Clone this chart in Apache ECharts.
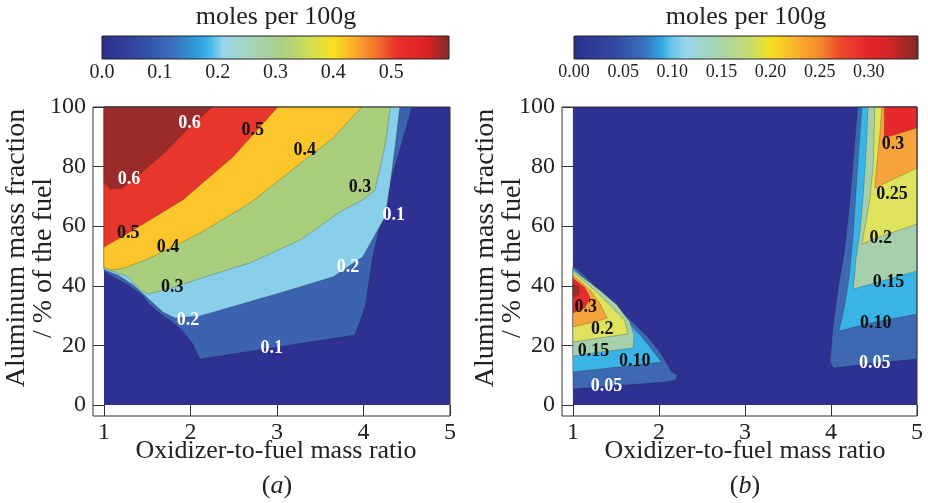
<!DOCTYPE html>
<html>
<head>
<meta charset="utf-8">
<script src="https://cdn.jsdelivr.net/npm/echarts@6/dist/echarts.min.js"></script>
<style>
html, body { margin: 0; padding: 0; background: #fff; }
#main { width: 928px; height: 503px; }
</style>
</head>
<body>
<div id="main"></div>
<script>
// axis ticks
var xTicks = [1, 2, 3, 4, 5];
var yTicks = [0, 20, 40, 60, 80, 100];
var cbarTicksA = [0, 0.1, 0.2, 0.3, 0.4, 0.5];
var cbarTicksB = [0, 0.05, 0.1, 0.15, 0.2, 0.25, 0.3];
var cbarMaxA = 0.6;
var cbarMaxB = 0.35;

// colour bars: [value, colour]
var cbarStopsA = [[0, '#2c2f8c'], [0.06, '#3147a0'], [0.12, '#3a6db8'], [0.17, '#2fa3e0'], [0.19, '#49bde9'],
    [0.21, '#9ad6ea'], [0.26, '#a7d4b8'], [0.31, '#a8cf86'], [0.36, '#d4de55'], [0.4, '#f7e01c'],
    [0.43, '#fbb52a'], [0.47, '#f3792c'], [0.51, '#e9302a'], [0.56, '#dd2228'], [0.6, '#7f2a25']];
var cbarStopsB = [[0, '#2c2f8c'], [0.04, '#3147a0'], [0.07, '#3a6db8'], [0.09, '#34a8e2'], [0.1, '#6cc6ea'],
    [0.115, '#9ad6ea'], [0.15, '#a8d2a8'], [0.18, '#c8dc6a'], [0.2, '#f5e01f'], [0.225, '#fbb32b'],
    [0.25, '#f58a2c'], [0.27, '#ec4a2a'], [0.3, '#e3242a'], [0.32, '#d42528'], [0.35, '#7f2a25']];

// (a) filled contour regions, one list of polygons per level [x ratio, Al %]
var levelsA = [0, 0.1, 0.2, 0.3, 0.4, 0.5, 0.6];
var regionsA = [
    [[[1, 0], [5, 0], [5, 100], [1, 100]]],
    [[[1, 45], [1.13, 42.6], [1.28, 40.3], [1.44, 36.9], [1.53, 33.6], [1.67, 30.2], [1.76, 28.5], [1.9, 25.2],
      [2.02, 20.8], [2.11, 15.4], [3.9, 23.5], [4.02, 32.9], [4.1, 48.7], [4.28, 72.1], [4.42, 85.6], [4.56, 100], [1, 100]]],
    [[[1, 45.3], [1.16, 43.6], [1.34, 40.3], [1.53, 35.2], [1.68, 31.2], [1.82, 29.2], [2.11, 29.9], [3.07, 37.9],
      [3.65, 43], [3.99, 49.7], [4.1, 55.4], [4.25, 63.1], [4.31, 74.5], [4.36, 85.6], [4.42, 100], [1, 100]]],
    [[[1, 45.6], [1.13, 44.6], [1.28, 43], [1.42, 38.6], [1.51, 37.2], [1.79, 39.3], [2.17, 43], [2.69, 47.7],
      [3.27, 55.4], [3.73, 64.8], [3.99, 68.8], [4.13, 72.1], [4.2, 80.5], [4.26, 88.9], [4.31, 100], [1, 100]]],
    [[[1, 46.3], [1.09, 45.3], [1.24, 46], [1.53, 49.3], [1.74, 52.3], [2.11, 57.7], [2.69, 67.8], [3.32, 82.2],
      [3.65, 89.6], [3.98, 100], [1, 100]]],
    [[[1, 53], [1.34, 58.7], [1.91, 68.8], [2.49, 83.2], [3.01, 100], [1, 100]]],
    [[[1, 74.8], [1.07, 72.5], [1.21, 72.8], [1.36, 76.2], [1.71, 84.9], [1.99, 93.3], [2.25, 100], [1, 100]]]
];
var labelsA = [[1.29, 75.8, '0.6'], [1.99, 94.6, '0.6'], [1.28, 57.7, '0.5'], [2.72, 92.3, '0.5'],
    [1.74, 53, '0.4'], [3.32, 85.6, '0.4'], [1.79, 39.6, '0.3'], [3.96, 73.2, '0.3'],
    [1.97, 28.5, '0.2'], [3.82, 46.3, '0.2'], [2.94, 19.1, '0.1'], [4.35, 63.8, '0.1']];

// (b)
var levelsB = [0, 0.05, 0.1, 0.15, 0.2, 0.25, 0.3, 0.33];
var regionsB = [
    [[[1, 0], [5, 0], [5, 100], [1, 100]]],
    [[[1, 46.6], [1.14, 43.3], [1.29, 38.9], [1.49, 33.2], [1.69, 27.9], [1.87, 22.8], [2.01, 17.8], [2.1, 13.4],
      [2.15, 11.1], [2.21, 10.1], [2.2, 8.4], [2.07, 7.7], [1, 5.4]],
     [[4.31, 100], [5, 100], [5, 15.4], [4.51, 14.1], [4.03, 12.4], [3.99, 14.4], [4.02, 25.2], [4.08, 38.6],
      [4.16, 52], [4.22, 68.8], [4.27, 85.6]]],
    [[[1, 46], [1.26, 38.6], [1.45, 33.2], [1.64, 27.9], [1.8, 22.8], [1.94, 17.8], [2.03, 14.4], [1.55, 12.8], [1, 11.1]],
     [[4.36, 100], [5, 100], [5, 30.5], [4.52, 27.9], [4.09, 24.8], [4.13, 29.2], [4.19, 38.6], [4.22, 45.3],
      [4.26, 57.7], [4.31, 79.9]]],
    [[[1, 45.3], [1.31, 38.6], [1.51, 33.6], [1.66, 27.9], [1.71, 23.5], [1.7, 19.1], [1.31, 17.8], [1, 16.4]],
     [[4.43, 100], [5, 100], [5, 45], [4.63, 41.9], [4.26, 38.9], [4.29, 48.7], [4.34, 58.7], [4.38, 72.1], [4.41, 85.6]]],
    [[[1, 44.6], [1.29, 37.6], [1.45, 32.9], [1.6, 28.5], [1.64, 23.8], [1.31, 22.5], [1, 21.1]],
     [[4.51, 100], [5, 100], [5, 60.7], [4.59, 56.7], [4.36, 54], [4.41, 62.1], [4.45, 68.8], [4.49, 79.9]]],
    [[[1, 43.6], [1.2, 38.6], [1.31, 34.2], [1.4, 29.2], [1.26, 27.9], [1, 26.2]],
     [[4.59, 100], [5, 100], [5, 79.5], [4.51, 72.8], [4.53, 79.9], [4.57, 91.3]]],
    [[[1, 42.6], [1.14, 39.3], [1.2, 35.9], [1.14, 32.6], [1, 30.9]],
     [[4.62, 100], [5, 100], [5, 93], [4.62, 89.6]]],
    [[[1, 40.6], [1.07, 39.6], [1.07, 37.2], [1, 36.2]]]
];
var labelsB = [[1.15, 32.8, '0.3'], [1.34, 25.4, '0.2'], [1.24, 18.1, '0.15'], [1.72, 14.5, '0.10'], [1.39, 6.4, '0.05'],
    [4.72, 87.6, '0.3'], [4.71, 70.8, '0.25'], [4.58, 55.9, '0.2'], [4.67, 41.2, '0.15'], [4.52, 27.4, '0.10'], [4.51, 14, '0.05']];

var colorsA = ['#2e3192', '#3b63b0', '#88cfea', '#a9cf7e', '#fbc52b', '#e8362c', '#9b2b2b'];
var colorsB = ['#2e3192', '#3d69b2', '#3ab4e7', '#a6d0ab', '#dfe25c', '#f6a33b', '#e8292b', '#a32929'];
var whiteA = ['0.6', '0.2', '0.1'];
var whiteB = ['0.05'];

var serif = '"Liberation Serif", "Times New Roman", serif';
var ink = '#222';

var chart = echarts.init(document.getElementById('main'));

function mainX(i) {
    return {
        type: 'value', gridIndex: i, min: 0.873, max: 5,
        axisLine: { show: false, onZero: false },
        splitLine: { show: false },
        axisTick: { show: true, inside: true, length: 11, customValues: xTicks, lineStyle: { color: '#333' } },
        axisLabel: { customValues: xTicks, fontSize: 24, fontFamily: serif, color: ink, margin: 5 }
    };
}
function mainY(i) {
    return {
        type: 'value', gridIndex: i, min: -3.7, max: 100,
        axisLine: { show: false, onZero: false },
        splitLine: { show: false },
        axisTick: { show: true, inside: true, length: 11, customValues: yTicks, lineStyle: { color: '#333' } },
        axisLabel: { customValues: yTicks, fontSize: 24, fontFamily: serif, color: ink, margin: 7 }
    };
}
function cbarX(i, max, ticks, digits) {
    return {
        type: 'value', gridIndex: i, min: 0, max: max,
        axisLine: { show: false, onZero: false },
        splitLine: { show: false },
        axisTick: { show: true, inside: true, length: 23, customValues: ticks, lineStyle: { color: 'rgba(0,0,0,0.25)' } },
        axisLabel: {
            customValues: ticks, fontSize: digits === 1 ? 20 : 18, fontFamily: serif, color: ink, margin: 4,
            formatter: function (v) { return v.toFixed(digits); }
        }
    };
}

function regionSeries(gi, regions, colors) {
    var items = [];
    regions.forEach(function (polys, level) {
        polys.forEach(function (poly) {
            items.push({ level: level, poly: poly });
        });
    });
    return {
        type: 'custom', xAxisIndex: gi, yAxisIndex: gi, silent: true,
        data: items.map(function (d, k) { return [d.poly[0][0], d.poly[0][1], k]; }),
        renderItem: function (params, api) {
            var it = items[params.dataIndex];
            var pts = it.poly.map(function (p) { return api.coord(p); });
            return {
                type: 'polygon',
                shape: { points: pts },
                style: {
                    fill: colors[it.level],
                    stroke: it.level ? 'rgba(30,30,30,0.35)' : null,
                    lineWidth: 0.7
                }
            };
        }
    };
}

function labelSeries(gi, labels, whites) {
    return {
        type: 'custom', xAxisIndex: gi, yAxisIndex: gi, silent: true, z: 4,
        data: labels,
        renderItem: function (params, api) {
            var p = api.coord([api.value(0), api.value(1)]);
            var t = labels[params.dataIndex][2];
            return {
                type: 'text', x: p[0], y: p[1],
                style: {
                    text: t, fill: whites.indexOf(t) >= 0 ? '#fff' : '#111',
                    font: 'bold 18px ' + serif, align: 'center', verticalAlign: 'middle'
                }
            };
        }
    };
}

function cbarSeries(gi, max, stops) {
    return {
        type: 'custom', xAxisIndex: gi, yAxisIndex: gi, silent: true,
        data: [[0, 0]],
        renderItem: function (params, api) {
            var p0 = api.coord([0, 1]);
            var p1 = api.coord([max, 0]);
            return {
                type: 'rect',
                shape: { x: p0[0], y: p0[1], width: p1[0] - p0[0], height: p1[1] - p0[1] },
                style: {
                    fill: new echarts.graphic.LinearGradient(0, 0, 1, 0, stops.map(function (s) {
                        return { offset: s[0] / max, color: s[1] };
                    })),
                    stroke: '#222', lineWidth: 1
                }
            };
        }
    };
}

function txt(x, y, text, size, rot) {
    return {
        type: 'text', x: x, y: y, rotation: rot || 0, silent: true,
        style: { text: text, font: size + 'px ' + serif, fill: ink, align: 'center', verticalAlign: 'middle' }
    };
}
function caption(x, y, letter) {
    return {
        type: 'text', x: x, y: y, silent: true,
        style: {
            text: '({i|' + letter + '})', fontSize: 26, fontFamily: serif, fill: ink,
            align: 'center', verticalAlign: 'middle',
            rich: { i: { fontSize: 26, fontFamily: serif, fontStyle: 'italic', fill: ink } }
        }
    };
}

var option = {
    animation: false,
    grid: [
        { left: 93, top: 107, width: 357, height: 309, show: true, borderColor: '#333', borderWidth: 1, z: 5 },
        { left: 562, top: 107, width: 355, height: 309, show: true, borderColor: '#333', borderWidth: 1, z: 5 },
        { left: 102, top: 36, width: 347, height: 23 },
        { left: 574, top: 36, width: 344, height: 23 }
    ],
    xAxis: [mainX(0), mainX(1), cbarX(2, cbarMaxA, cbarTicksA, 1), cbarX(3, cbarMaxB, cbarTicksB, 2)],
    yAxis: [mainY(0), mainY(1),
        { type: 'value', gridIndex: 2, min: 0, max: 1, show: false },
        { type: 'value', gridIndex: 3, min: 0, max: 1, show: false }],
    series: [
        regionSeries(0, regionsA, colorsA),
        labelSeries(0, labelsA, whiteA),
        regionSeries(1, regionsB, colorsB),
        labelSeries(1, labelsB, whiteB),
        cbarSeries(2, cbarMaxA, cbarStopsA),
        cbarSeries(3, cbarMaxB, cbarStopsB)
    ],
    graphic: [
        txt(276, 17, 'moles per 100g', 26),
        txt(746, 17, 'moles per 100g', 26),
        txt(276, 451, 'Oxidizer-to-fuel mass ratio', 26),
        txt(745, 451, 'Oxidizer-to-fuel mass ratio', 26),
        txt(17, 248, 'Aluminum mass fraction', 28, Math.PI / 2),
        txt(44, 258, '/ % of the fuel', 28, Math.PI / 2),
        txt(486, 248, 'Aluminum mass fraction', 28, Math.PI / 2),
        txt(513, 258, '/ % of the fuel', 28, Math.PI / 2),
        caption(277, 486, 'a'),
        caption(745, 486, 'b')
    ]
};

chart.setOption(option);
</script>
</body>
</html>
